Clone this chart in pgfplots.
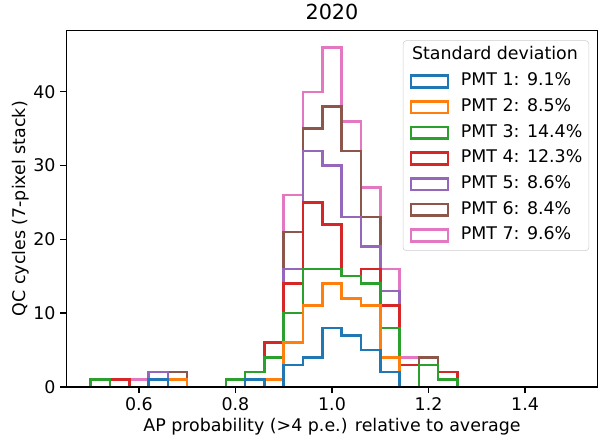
\documentclass[border=0pt]{standalone}
\usepackage{fontspec}
\setmainfont{DejaVu Sans}
\usepackage{pgfplots}
\pgfplotsset{compat=1.18}
\usepackage{pgfplotstable}

\definecolor{c1}{HTML}{1F77B4}
\definecolor{c2}{HTML}{FF7F0E}
\definecolor{c3}{HTML}{2CA02C}
\definecolor{c4}{HTML}{D62728}
\definecolor{c5}{HTML}{9467BD}
\definecolor{c6}{HTML}{8C564B}
\definecolor{c7}{HTML}{E377C2}
\definecolor{legframe}{HTML}{CCCCCC}

% cumulative (stacked) counts per bin, bin width 0.04 from 0.5 to 1.5
\pgfplotstableread{
x    p1 p2 p3 p4 p5 p6 p7
0.50 0  0  0  0  0  0  0
0.50 0  0  1  1  1  1  1
0.54 0  0  0  1  1  1  1
0.58 0  0  0  0  0  0  1
0.62 1  1  1  1  2  2  2
0.66 0  1  1  1  1  2  2
0.70 0  0  0  0  0  0  0
0.74 0  0  0  0  0  0  0
0.78 0  0  1  1  1  1  1
0.82 1  1  2  2  2  2  2
0.86 0  1  4  6  6  6  6
0.90 3  6  10 14 16 21 26
0.94 4  11 16 25 32 35 40
0.98 8  14 16 22 30 38 46
1.02 7  12 15 15 23 32 36
1.06 5  11 14 16 19 23 27
1.10 2  4  8  11 13 13 16
1.14 0  0  0  3  3  3  4
1.18 0  0  3  3  3  4  4
1.22 0  0  1  2  2  2  2
1.26 0  0  0  0  0  0  0
1.50 0  0  0  0  0  0  0
}\cumdata

\newcommand{\fs}{\fontsize{12.6}{15}\selectfont}
\newcommand{\ft}{\fontsize{15}{18}\selectfont}

\begin{document}
\begin{tikzpicture}
\begin{axis}[
  name=ax,
  scale only axis,
  width=382.5bp, height=256.7bp,
  xmin=0.45, xmax=1.55, ymin=0, ymax=48.3,
  axis lines=box,
  axis line style={line width=1bp, black},
  tick style={line width=1bp, black},
  major tick length=4.4bp,
  tick align=outside,
  xtick pos=bottom, ytick pos=left,
  xtick={0.6,0.8,1.0,1.2,1.4},
  ytick={0,10,20,30,40},
  xticklabel style={/pgf/number format/.cd, fixed, fixed zerofill, precision=1},
  /pgf/number format/assume math mode=true,
  tick label style={font=\fs},
  title={2020},
  every axis title/.style={font=\ft, inner sep=0pt, at={(axis description cs:0.5,1)}, anchor=base, yshift=7.6bp},
  xlabel={AP probability (>4 p.e.) relative to average},
  ylabel={QC cycles (7-pixel stack)},
  xlabel style={font=\fs, inner sep=0pt, at={(axis description cs:0.5,0)}, anchor=base, yshift=-32.4bp},
  ylabel style={font=\fs, inner sep=0pt, at={(axis description cs:0,0.5)}, anchor=base, yshift=29.2bp},
  every axis plot/.append style={line width=1.8bp, const plot mark left, no marks},
  legend image code/.code={\draw[#1, sharp corners, line width=1.8bp] (0bp,-4.2bp) rectangle (26.6bp,4.2bp);},
  reverse legend,
  legend cell align=left,
  legend style={font=\fs, at={(axis description cs:1,1)}, anchor=north east, xshift=-6bp, yshift=-7bp,
    draw=legframe, rounded corners=2.5bp, fill=white, inner sep=4.7bp,
    row sep=6bp,
    nodes={inner sep=0pt, text height=9.3bp, text depth=3.2bp},
    /tikz/every odd column/.append style={column sep=8.6bp}},
]
\addplot[c7] table[x=x, y=p7] {\cumdata}; \addlegendentry{PMT 7: 9.6\%}
\addplot[c6] table[x=x, y=p6] {\cumdata}; \addlegendentry{PMT 6: 8.4\%}
\addplot[c5] table[x=x, y=p5] {\cumdata}; \addlegendentry{PMT 5: 8.6\%}
\addplot[c4] table[x=x, y=p4] {\cumdata}; \addlegendentry{PMT 4: 12.3\%}
\addplot[c3] table[x=x, y=p3] {\cumdata}; \addlegendentry{PMT 3: 14.4\%}
\addplot[c2] table[x=x, y=p2] {\cumdata}; \addlegendentry{PMT 2: 8.5\%}
\addplot[c1] table[x=x, y=p1] {\cumdata}; \addlegendentry{PMT 1: 9.1\%}
\addlegendimage{empty legend}
\addlegendentry{\hspace*{-35.2bp}Standard deviation}
\end{axis}
\draw[black, line width=1bp] (ax.south west) rectangle (ax.north east);
\pgfresetboundingbox
\path ([shift={(-47.9bp,-38.9bp)}]ax.south west) rectangle ([shift={(9bp,22bp)}]ax.north east);
\end{tikzpicture}
\end{document}
